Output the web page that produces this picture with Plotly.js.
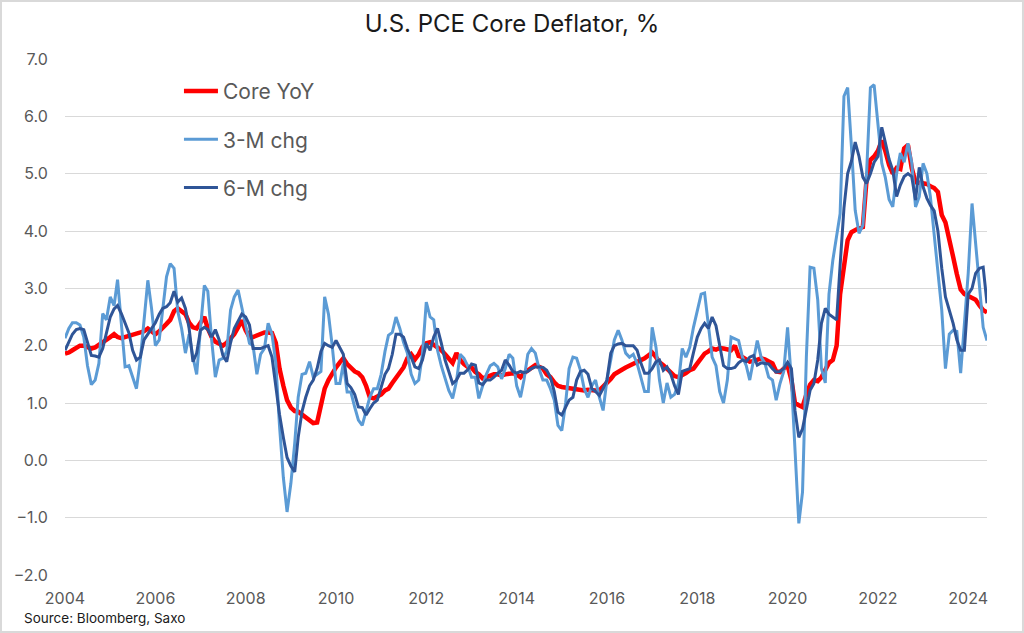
<!DOCTYPE html>
<html>
<head>
<meta charset="utf-8">
<script src="https://cdn.plot.ly/plotly-3.0.1.min.js"></script>
<style>
  html, body { margin: 0; padding: 0; background: #ffffff; }
  #chart { width: 1024px; height: 633px; }
</style>
</head>
<body>
<div id="chart"></div>
<script>
// Monthly observations, Jan 2004 .. Jun 2024
var startYear = 2004;
var seriesNames = ["Core YoY", "3-M chg", "6-M chg"];

var coreYoY = [
  1.86, 1.88, 1.92, 1.97, 2.0, 2.0, 1.98, 1.95, 1.97, 2.02, 2.06, 2.12,
  2.15, 2.2, 2.15, 2.13, 2.15, 2.18, 2.2, 2.22, 2.23, 2.25, 2.3, 2.25,
  2.2, 2.25, 2.3, 2.38, 2.45, 2.6, 2.65, 2.6, 2.55, 2.4, 2.32, 2.3,
  2.41, 2.5, 2.3, 2.15, 2.07, 2.03, 2.0, 2.05, 2.12, 2.2, 2.32, 2.44,
  2.27, 2.15, 2.15, 2.18, 2.22, 2.23, 2.23, 2.22, 2.05, 1.6, 1.3, 1.05,
  0.92, 0.86, 0.85, 0.8, 0.75, 0.68, 0.65, 0.66, 0.95, 1.25, 1.4, 1.52,
  1.62, 1.71, 1.78, 1.68, 1.62, 1.55, 1.52, 1.45, 1.3, 1.1, 1.08, 1.12,
  1.15, 1.22, 1.25, 1.35, 1.45, 1.54, 1.62, 1.78, 1.85, 1.76, 1.85, 1.98,
  2.04, 2.06, 2.02, 1.97, 1.92, 1.85, 1.78, 1.7, 1.87, 1.75, 1.68, 1.63,
  1.62, 1.54, 1.5, 1.43, 1.45, 1.48, 1.5, 1.5, 1.48, 1.5, 1.52, 1.52,
  1.5, 1.45, 1.52, 1.57, 1.62, 1.66, 1.63, 1.6, 1.5, 1.45, 1.36, 1.3,
  1.28, 1.27, 1.27, 1.25, 1.25, 1.24, 1.22, 1.23, 1.22, 1.22, 1.22, 1.28,
  1.36, 1.42, 1.5, 1.55, 1.58, 1.62, 1.65, 1.69, 1.73, 1.76, 1.78, 1.83,
  1.88, 1.8, 1.71, 1.66, 1.6, 1.52, 1.47, 1.45, 1.48, 1.52, 1.57, 1.6,
  1.69, 1.78, 1.86, 1.9, 1.95, 1.93, 1.96, 1.95, 1.93, 1.92, 2.0, 1.82,
  1.8, 1.75, 1.72, 1.73, 1.75, 1.78, 1.76, 1.72, 1.69, 1.55, 1.54, 1.6,
  1.66, 1.4, 1.0, 0.96, 0.93, 1.15, 1.32, 1.4, 1.38, 1.45, 1.57, 1.7,
  1.75, 2.0, 2.9, 3.4, 3.84, 3.98, 4.02, 4.05, 4.07, 4.9, 5.24, 5.3,
  5.4, 5.58, 5.4, 5.15, 5.0, 5.1, 5.08, 5.44, 5.5, 5.1, 4.85, 4.84,
  4.84, 4.82, 4.78, 4.75, 4.68, 4.28, 4.15, 3.8, 3.55, 3.25, 2.98, 2.9,
  2.86, 2.84, 2.8, 2.7, 2.62, 2.58
];

var chg3M = [
  2.13, 2.3, 2.4, 2.4, 2.36, 2.15, 1.65, 1.32, 1.4, 1.69, 2.56, 2.45,
  2.85, 2.7, 3.15, 2.3, 1.63, 1.65, 1.45, 1.25, 1.75, 2.4, 3.14, 2.65,
  2.0, 2.1, 2.67, 3.2, 3.43, 3.35, 2.6, 2.3, 1.87, 2.2, 1.8, 1.5,
  2.3, 3.05, 2.95, 2.1, 1.45, 1.75, 1.78, 1.9, 2.62, 2.85, 2.97, 2.67,
  2.32, 2.04, 2.0, 1.5, 1.85, 1.95, 2.39, 2.2, 1.7, 0.6, -0.3, -0.9,
  -0.4, 0.3, 1.1, 1.5, 1.52, 1.72, 1.45, 1.5, 1.55, 2.85, 2.55, 2.0,
  1.34, 1.34, 1.69, 1.19, 1.19, 0.93, 0.7, 0.61, 0.85, 1.1, 1.25, 1.25,
  1.5, 1.9, 2.18, 2.23, 2.5, 2.3, 2.06, 1.87, 1.5, 1.34, 1.4, 1.85,
  2.76, 2.5, 2.45, 1.92, 1.65, 1.45, 1.22, 1.08, 1.38, 1.85, 1.78, 1.65,
  1.45, 1.45, 1.08, 1.3, 1.5, 1.65, 1.69, 1.63, 1.42, 1.6, 1.85, 1.78,
  1.3, 1.1, 1.4, 1.85, 1.95, 1.87, 1.6, 1.4, 1.4, 1.25, 1.05, 0.61,
  0.52, 1.0, 1.6, 1.8, 1.78, 1.57, 1.25, 1.1, 1.3, 1.4, 1.1, 0.87,
  1.4, 1.75, 2.1, 2.27, 2.1, 1.87, 1.8, 1.85, 1.69, 1.45, 1.2, 1.2,
  2.32, 1.97, 1.4, 1.0, 1.35, 1.1, 1.15, 1.34, 1.95, 1.8, 1.97, 2.32,
  2.62, 2.9, 2.92, 2.3, 1.8, 1.65, 1.2, 1.0, 1.4, 2.15, 2.12, 2.09,
  1.8, 1.65, 1.4, 1.75, 2.09, 1.8, 1.7, 1.45, 1.4, 1.05, 1.34, 1.55,
  2.32, 1.4, 0.3, -1.1, -0.55, 1.8, 3.37, 3.35, 2.8, 1.6, 1.35, 2.9,
  3.49, 3.9, 4.3, 6.35, 6.5, 5.46, 4.36, 3.96, 4.1, 5.0, 6.5, 6.55,
  5.88, 5.18, 4.94, 4.55, 4.42, 5.0, 5.36, 5.2, 5.53, 5.2, 4.42, 4.6,
  5.18, 5.0, 4.6, 3.95, 3.32, 2.62, 1.6, 2.2, 2.27, 2.25, 1.52, 2.35,
  3.26, 4.48, 3.8, 3.15, 2.32, 2.09
];

var chg6M = [
  1.92, 2.05, 2.2, 2.28, 2.3, 2.28, 2.05, 1.83, 1.82, 1.8, 1.95, 2.2,
  2.5, 2.64, 2.7, 2.56, 2.4, 2.22, 1.92, 1.75, 1.8, 2.1, 2.2, 2.3,
  2.4, 2.55, 2.65, 2.68, 2.75, 2.95, 2.76, 2.83, 2.65, 2.3, 1.72, 1.87,
  2.27, 2.32, 2.28, 2.15, 2.28, 2.1, 1.83, 1.72, 2.05, 2.3, 2.42, 2.55,
  2.5, 2.36, 1.95, 1.95, 1.95, 1.98, 2.0, 1.8, 1.3, 0.8, 0.4, 0.05,
  -0.1, -0.2, 0.4, 0.85, 1.1, 1.3, 1.4, 1.6, 1.9, 2.04, 2.0, 1.97,
  2.09, 1.97, 1.85, 1.34, 1.27, 1.15, 0.93, 0.92, 0.79, 0.9, 1.0, 1.05,
  1.3, 1.5, 1.6, 1.85, 2.2, 2.2, 2.15, 1.95, 1.8, 1.63, 1.6, 1.75,
  2.04, 1.92, 2.15, 2.3, 2.05, 1.75, 1.55, 1.34, 1.4, 1.52, 1.52, 1.58,
  1.68, 1.66, 1.35, 1.32, 1.4, 1.4, 1.45, 1.52, 1.57, 1.75, 1.66, 1.55,
  1.52, 1.55, 1.53, 1.55, 1.6, 1.63, 1.63, 1.62, 1.57, 1.45, 1.2, 0.84,
  0.79, 0.93, 1.05, 1.1, 1.4, 1.55, 1.57, 1.5, 1.25, 1.2, 1.13, 1.25,
  1.4, 1.87, 2.0, 2.03, 2.04, 2.0, 2.0, 2.0, 1.92, 1.7, 1.52, 1.52,
  1.6, 1.72, 1.75, 1.57, 1.63, 1.5, 1.3, 1.15, 1.55, 1.57, 1.6, 1.88,
  2.15, 2.3, 2.39, 2.3, 2.5, 2.35, 2.0, 1.65, 1.6, 1.6, 1.62, 1.7,
  1.75, 1.72, 1.8, 1.83, 1.66, 1.7, 1.69, 1.68, 1.6, 1.54, 1.55, 1.6,
  1.71, 1.6, 0.87, 0.4, 0.55, 0.9, 1.22, 1.34, 1.75, 2.39, 2.65, 2.55,
  2.5, 2.45, 3.4, 4.4, 5.0, 5.22, 5.55, 5.3, 4.94, 4.83, 5.0, 5.2,
  5.3, 5.81, 5.55, 5.25, 5.06, 4.6, 4.8, 4.95, 5.0, 4.95, 4.54, 5.11,
  4.77, 4.57, 4.45, 4.35, 4.0, 3.35, 2.85, 2.62, 2.39, 2.1, 1.92, 1.92,
  2.9, 3.0, 3.26, 3.35, 3.37, 2.74
];

var tickYears = ["2004","2006","2008","2010","2012","2014","2016","2018","2020","2022","2024"];

// month dates for the x axis
var dates = [];
for (var i = 0; i < coreYoY.length; i++) {
  var y = startYear + Math.floor(i / 12);
  var m = (i % 12) + 1;
  dates.push(y + "-" + (m < 10 ? "0" + m : m) + "-01");
}

var FONT = "Inter, 'Open Sans', 'DejaVu Sans', sans-serif";

var traces = [
  { x: dates, y: coreYoY, name: seriesNames[0], type: "scatter", mode: "lines",
    legendgroup: "a", line: { color: "#ff0000", width: 4.5 } },
  { x: dates, y: chg3M, name: seriesNames[1], type: "scatter", mode: "lines",
    legendgroup: "b", line: { color: "#5b9bd5", width: 3 } },
  { x: dates, y: chg6M, name: seriesNames[2], type: "scatter", mode: "lines",
    legendgroup: "c", line: { color: "#2f5597", width: 3 } }
];

var layout = {
  width: 1024,
  height: 633,
  paper_bgcolor: "#ffffff",
  plot_bgcolor: "#ffffff",
  margin: { l: 65, r: 37, t: 59, b: 58 },
  font: { family: FONT, color: "#595959" },
  title: {
    text: "U.S. PCE Core Deflator, %",
    font: { family: FONT, size: 24, color: "#1a1a1a" },
    x: 0.5, xanchor: "center",
    y: 0.962, yanchor: "middle"
  },
  showlegend: true,
  legend: {
    x: 0.1236, xanchor: "left",
    y: 0.977, yanchor: "top",
    bgcolor: "rgba(0,0,0,0)",
    font: { family: FONT, size: 21, color: "#595959" },
    itemwidth: 34,
    tracegroupgap: 18,
    traceorder: "grouped"
  },
  xaxis: {
    type: "date",
    range: ["2004-01-01", "2024-06-01"],
    tickmode: "array",
    tickvals: tickYears.map(function (t) { return t + "-01-01"; }),
    ticktext: tickYears,
    showgrid: false,
    zeroline: false,
    showline: false,
    ticks: "outside",
    ticklen: 9,
    tickcolor: "rgba(0,0,0,0)",
    tickfont: { family: FONT, size: 16, color: "#595959" }
  },
  yaxis: {
    range: [-2, 7],
    dtick: 1,
    tick0: 0,
    tickformat: ".1f",
    showgrid: true,
    gridcolor: "#d9d9d9",
    gridwidth: 1,
    zeroline: false,
    showline: false,
    ticks: "outside",
    ticklen: 13,
    tickcolor: "rgba(0,0,0,0)",
    tickfont: { family: FONT, size: 16, color: "#595959" }
  },
  annotations: [
    {
      text: "Source: Bloomberg, Saxo",
      xref: "paper", yref: "paper",
      x: -0.047, xanchor: "left",
      y: -0.0825, yanchor: "middle",
      showarrow: false,
      font: { family: FONT, size: 13.5, color: "#1a1a1a" }
    }
  ],
  shapes: [
    {
      type: "rect", xref: "paper", yref: "paper",
      x0: -0.0694, x1: 1.0390, y0: -0.1105, y1: 1.1124,
      line: { color: "#d9d9d9", width: 2 },
      fillcolor: "rgba(0,0,0,0)",
      layer: "below"
    }
  ]
};

Plotly.newPlot("chart", traces, layout, { displayModeBar: false, staticPlot: true });
</script>
</body>
</html>
